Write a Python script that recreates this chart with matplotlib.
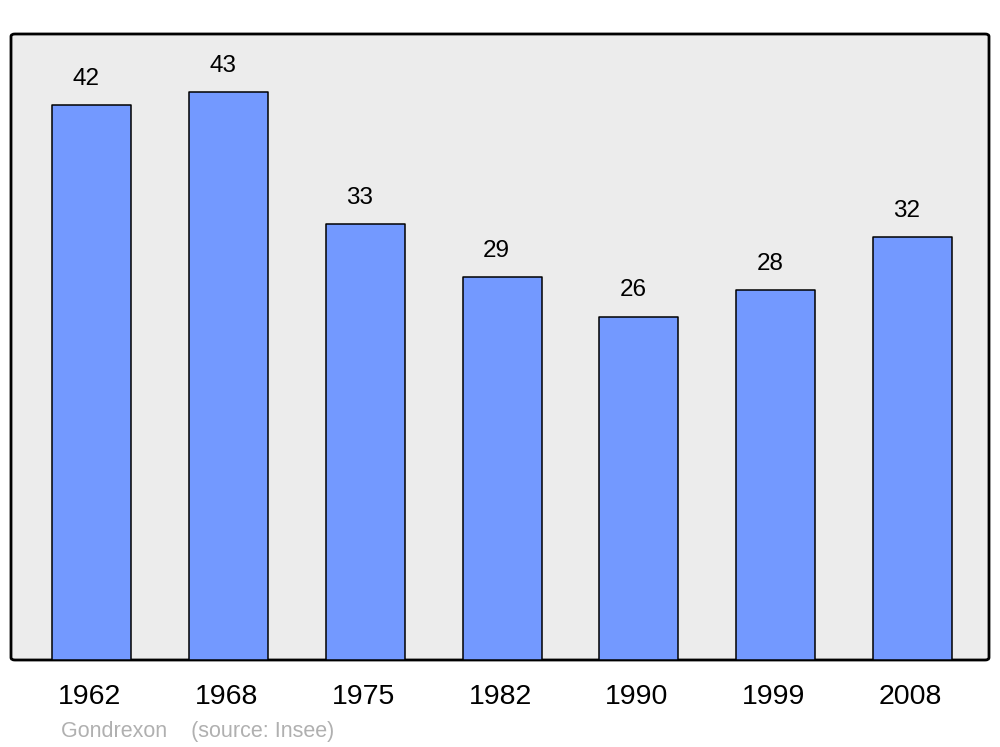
import matplotlib
matplotlib.use("Agg")
import matplotlib.pyplot as plt
from matplotlib.patches import FancyBboxPatch

years = ["1962", "1968", "1975", "1982", "1990", "1999", "2008"]
population = [42, 43, 33, 29, 26, 28, 32]
commune = "Gondrexon"
source = "(source: Insee)"

plt.rcParams['font.family'] = ['Liberation Sans', 'DejaVu Sans']

fig = plt.figure(figsize=(10, 7.47), dpi=100)
ax = fig.add_axes([0.011, 87/747, 0.978, 626/747])
ax.patch.set_visible(False)
for s in ax.spines.values():
    s.set_visible(False)

bg = FancyBboxPatch((0, 0), 1, 1, boxstyle="round,pad=0,rounding_size=0.004",
                    transform=ax.transAxes, facecolor='#ECECEC', edgecolor='black',
                    linewidth=2.0, zorder=0, clip_on=False)
ax.add_patch(bg)

x = list(range(len(years)))
bars = ax.bar(x, population, width=0.578, color='#7399FF', edgecolor='black',
              linewidth=1.1, zorder=2)
for b in bars:
    b.set_joinstyle('round')

for xi, v in zip(x, population):
    ax.annotate(str(v), (xi - 0.04, v), xytext=(0, 14.5), textcoords='offset points',
                ha='center', va='baseline', fontsize=17.5, color='black')

ax.set_xlim(-0.592, 6.56)
ax.set_ylim(0, 47.4)
ax.set_yticks([])
ax.set_xticks([xi - 0.015 for xi in x])
ax.set_xticklabels(years, fontsize=20.5)
ax.tick_params(axis='x', length=0, pad=17.5)

fig.text(0.061, 1 - 737/747, commune + "    " + source, fontsize=15.5,
         color='#B0B0B0', ha='left', va='baseline')

fig.savefig("out.png", dpi=100)
